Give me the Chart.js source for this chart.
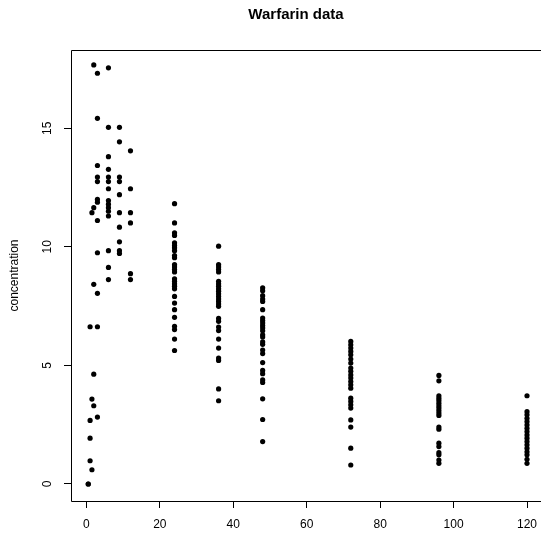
<!DOCTYPE html>
<html>
<head>
<meta charset="utf-8">
<script src="https://cdn.jsdelivr.net/npm/chart.js@4/dist/chart.umd.min.js"></script>
<style>
  html, body { margin: 0; padding: 0; background: #fff; overflow: hidden; }
  #wrap { width: 560px; height: 535px; }
</style>
</head>
<body>
<div id="wrap"><canvas id="chart" width="560" height="535"></canvas></div>
<script>
// sampling times (h) and concentrations read at each time
const times = [0.5, 1, 1.5, 2, 3, 6, 9, 12, 24, 36, 48, 72, 96, 120];
const concByTime = [
  [0, 0],
  [6.63, 2.68, 1.93, 0.98],
  [11.44, 3.58, 0.6],
  [17.67, 11.65, 8.42, 4.63, 3.3],
  [17.32, 15.42, 13.43, 12.94, 12.75, 12.0, 11.88, 11.11, 9.75, 8.04, 6.63, 2.82],
  [17.55, 15.04, 13.8, 13.27, 12.94, 12.75, 12.45, 11.95, 11.8, 11.65, 11.5, 11.3, 9.84, 9.13, 8.62],
  [15.04, 14.43, 12.94, 12.75, 12.2, 11.44, 10.83, 10.21, 9.84, 9.72],
  [14.05, 12.45, 11.44, 11.01, 8.87, 8.62],
  [11.82, 11.01, 10.59, 10.48, 10.17, 10.06, 9.96, 9.84, 9.63, 9.54, 9.25, 9.15, 9.04, 8.94, 8.65, 8.55, 8.44, 8.34, 8.23, 7.91, 7.63, 7.35, 7.03, 6.65, 6.51, 6.11, 5.63],
  [10.03, 9.25, 9.15, 9.04, 8.94, 8.55, 8.44, 8.34, 8.23, 8.13, 8.02, 7.91, 7.8, 7.7, 7.59, 7.49, 6.98, 6.86, 6.62, 6.47, 6.11, 5.73, 5.31, 5.21, 4.01, 3.51],
  [8.27, 8.15, 7.94, 7.8, 7.7, 7.35, 7.0, 6.89, 6.79, 6.68, 6.58, 6.46, 6.29, 6.2, 5.99, 5.89, 5.65, 5.5, 5.12, 4.79, 4.65, 4.39, 4.28, 3.59, 2.72, 1.79],
  [6.01, 5.87, 5.73, 5.59, 5.45, 5.27, 5.1, 4.89, 4.75, 4.6, 4.47, 4.32, 4.18, 4.04, 3.62, 3.48, 3.34, 3.2, 2.7, 2.4, 1.51, 0.8],
  [4.58, 4.35, 3.72, 3.62, 3.52, 3.41, 3.3, 3.2, 3.1, 2.99, 2.89, 2.4, 2.31, 1.72, 1.58, 1.32, 1.23, 1.01, 0.87],
  [3.72, 3.05, 2.92, 2.77, 2.63, 2.49, 2.35, 2.21, 2.07, 1.93, 1.79, 1.65, 1.51, 1.36, 1.23, 1.04, 0.87]
];
const xTicks = [0, 20, 40, 60, 80, 100, 120];
const yTicks = [0, 5, 10, 15];

const points = times.flatMap((t, i) => concByTime[i].map(c => ({ x: t, y: c })));

const FONT = "'Liberation Sans', Arial, Helvetica, sans-serif";

// frame round the plot (right side runs off the picture) + main title
const framePlugin = {
  id: "frame",
  afterDraw(chart) {
    const { ctx, chartArea: a } = chart;
    const l = Math.round(a.left) + 0.5, t = Math.round(a.top) + 0.5, b = Math.round(a.bottom) + 0.5;
    ctx.save();
    ctx.strokeStyle = "#000";
    ctx.lineWidth = 1;
    ctx.beginPath();
    ctx.moveTo(chart.width, t);
    ctx.lineTo(l, t);
    ctx.lineTo(l, b);
    ctx.lineTo(chart.width, b);
    ctx.stroke();
    ctx.fillStyle = "#000";
    ctx.font = "bold 15px " + FONT;
    ctx.textAlign = "center";
    ctx.textBaseline = "middle";
    ctx.fillText("Warfarin data", 296, 15);
    ctx.restore();
  }
};

new Chart(document.getElementById("chart"), {
  type: "scatter",
  data: {
    datasets: [{
      data: points,
      backgroundColor: "#000",
      borderColor: "#000",
      pointRadius: 2.6,
      pointHoverRadius: 2.6,
      borderWidth: 0
    }]
  },
  options: {
    responsive: false,
    animation: false,
    layout: { padding: { top: 50, right: 15, left: 0, bottom: 0 } },
    plugins: { legend: { display: false }, tooltip: { enabled: false } },
    scales: {
      x: {
        type: "linear",
        min: -4.2,
        max: 124.9,
        afterBuildTicks: s => { s.ticks = xTicks.map(v => ({ value: v })); },
        afterFit: s => { s.height = 34; s.paddingLeft = 0; s.paddingRight = 0; },
        grid: { drawOnChartArea: false, drawTicks: true, tickLength: 7, color: "#000" },
        border: { display: false },
        ticks: { color: "#000", padding: 9, maxRotation: 0, font: { family: FONT, size: 12 } }
      },
      y: {
        type: "linear",
        min: -0.717,
        max: 18.3,
        afterBuildTicks: s => { s.ticks = yTicks.map(v => ({ value: v })); },
        afterFit: s => { s.width = 71; s.paddingTop = 0; s.paddingBottom = 0; },
        grid: { drawOnChartArea: false, drawTicks: true, tickLength: 7, color: "#000" },
        border: { display: false },
        ticks: {
          color: "#000", padding: 10, minRotation: 90, maxRotation: 90,
          crossAlign: "center", font: { family: FONT, size: 12 }
        },
        title: {
          display: true, text: "concentration", color: "#000",
          padding: { top: 7, bottom: 0 }, font: { family: FONT, size: 12 }
        }
      }
    }
  },
  plugins: [framePlugin]
});
</script>
</body>
</html>
